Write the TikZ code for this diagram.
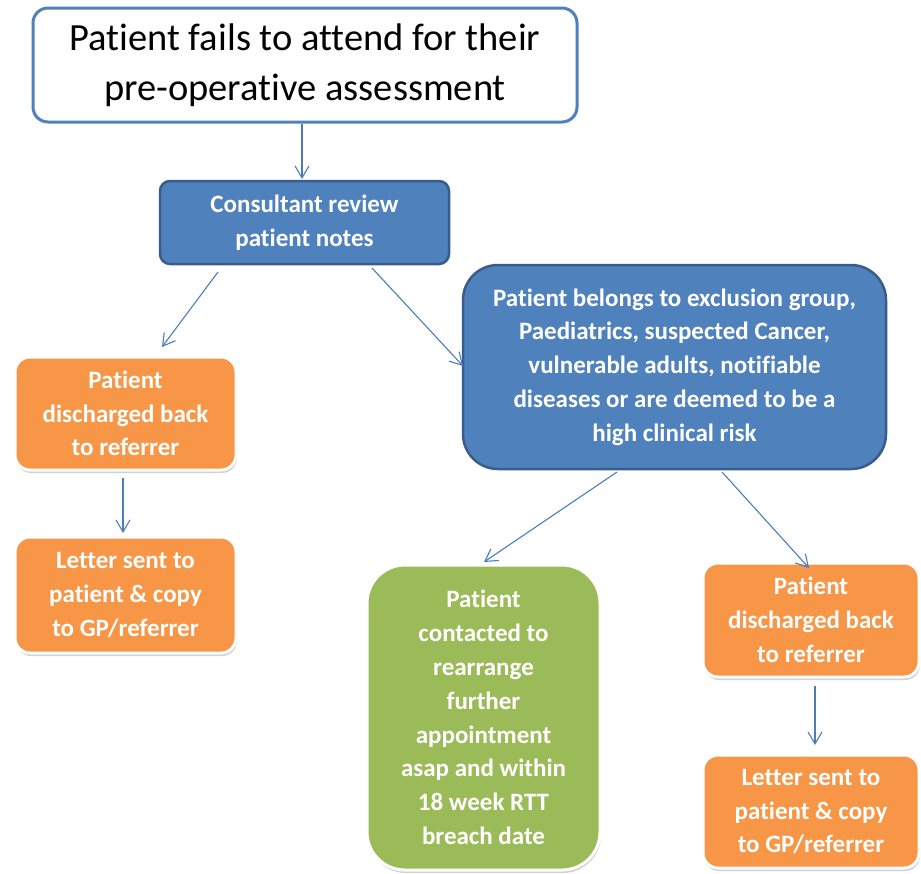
\documentclass[tikz,border=0pt]{standalone}
\usepackage{fontspec}
\setmainfont{Carlito}[Ligatures=NoCommon]
\usetikzlibrary{arrows.meta,shadows,calc}
\definecolor{bfill}{HTML}{4F81BD}
\definecolor{bdraw}{HTML}{385D8A}
\definecolor{tdraw}{HTML}{4F81BD}
\definecolor{ofill}{HTML}{F79646}
\definecolor{gfill}{HTML}{9BBB59}
\definecolor{arrc}{HTML}{4A7EBB}
\tikzset{
  base/.style={align=center, inner sep=0pt, font=\bfseries\fontsize{25}{33.8}\selectfont, text=white},
  topbox/.style={draw=tdraw, line width=3pt, fill=white, rounded corners=15pt, align=center, inner sep=0pt,
     font=\fontsize{38.5}{50}\selectfont, text=black},
  bluebox/.style={base, fill=bfill, draw=bdraw, line width=2.5pt},
  softbox/.style={base, draw=white, line width=3pt,
     drop shadow={shadow xshift=1pt, shadow yshift=-3pt, opacity=0.3, fill=black!60}},
  orangebox/.style={softbox, fill=ofill, rounded corners=15pt},
  greenbox/.style={softbox, fill=gfill, rounded corners=38pt},
  arr/.style={draw=arrc, line width=1.1pt, -{Straight Barb[length=12pt,width=14pt]}}
}
\begin{document}
\begin{tikzpicture}[x=1pt,y=-1pt]
\useasboundingbox (0,0) rectangle (921,873);
\node[topbox, minimum width=544pt, minimum height=114pt] (top) at (305,65)
  {Patient fails to attend for their\\pre-operative assessment};
\node[bluebox, rounded corners=10pt, minimum width=289pt, minimum height=83pt] (cons) at (304.5,222.5)
  {Consultant review\\patient notes};
\node[bluebox, rounded corners=35pt, minimum width=423pt, minimum height=204pt] (excl) at (674.5,367)
  {Patient belongs to exclusion group,\\Paediatrics, suspected Cancer,\\vulnerable adults, notifiable\\diseases or are deemed to be a\\high clinical risk};
\node[orangebox, minimum width=221pt, minimum height=113pt] (lo1) at (125.5,413.5)
  {Patient\\discharged back\\to referrer};
\node[orangebox, minimum width=221pt, minimum height=116pt] (lo2) at (125.5,595)
  {Letter sent to\\patient \& copy\\to GP/referrer};
\node[greenbox, minimum width=233pt, minimum height=305pt] (green) at (483.5,717.5)
  {Patient\\contacted to\\rearrange\\further\\appointment\\asap and within\\18 week RTT\\breach date};
\node[orangebox, minimum width=216pt, minimum height=114pt] (ro1) at (811,620)
  {Patient\\discharged back\\to referrer};
\node[orangebox, minimum width=216pt, minimum height=113pt] (ro2) at (811,811.5)
  {Letter sent to\\patient \& copy\\to GP/referrer};
% connector end points
\coordinate (a1s) at (302,124);
\coordinate (a1e) at (302,179);
\coordinate (a2s) at (218,272);
\coordinate (a2e) at (162,347);
\coordinate (a3s) at (372,268);
\coordinate (a3e) at (463,366);
\coordinate (a4s) at (617,472);
\coordinate (a4e) at (484,562);
\coordinate (a5s) at (722,472);
\coordinate (a5e) at (809,568);
\coordinate (a6s) at (123,478);
\coordinate (a6e) at (123,533);
\coordinate (a7s) at (815,686);
\coordinate (a7e) at (815,745);
\draw[arr] (a1s) -- (a1e);
\draw[arr] (a2s) -- (a2e);
\draw[arr] (a3s) -- (a3e);
\draw[arr] (a4s) -- (a4e);
\draw[arr] (a5s) -- (a5e);
\draw[arr] (a6s) -- (a6e);
\draw[arr] (a7s) -- (a7e);
\end{tikzpicture}
\end{document}
